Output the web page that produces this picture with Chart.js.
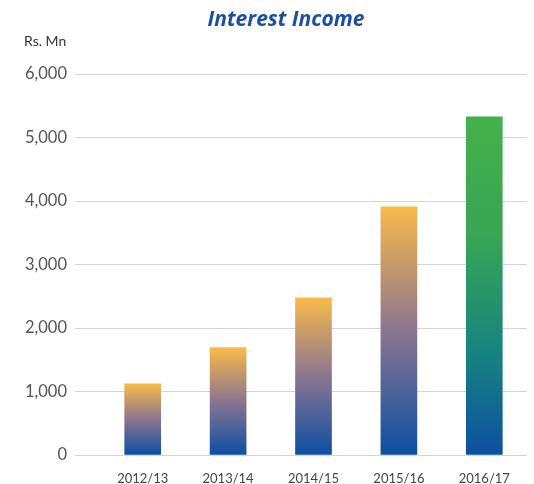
<!DOCTYPE html>
<html>
<head>
<meta charset="utf-8">
<script src="https://cdn.jsdelivr.net/npm/chart.js@4.4.1/dist/chart.umd.min.js"></script>
<style>
  html, body { margin: 0; padding: 0; background: #fff; }
  #wrap { width: 534px; height: 484px; }
</style>
</head>
<body>
<div id="wrap"><canvas id="incomeChart"></canvas></div>
<script>
const years = ["2012/13", "2013/14", "2014/15", "2015/16", "2016/17"];
const interestIncome = [1120, 1690, 2475, 3910, 5325];
const yTicks = [0, 1000, 2000, 3000, 4000, 5000, 6000];

const chartTitle = "Interest Income";
const unitLabel = "Rs. Mn";

// orange -> blue for the older years, green -> blue for the latest one
function barFill(context) {
    let chart = context.chart;
    if (!chart.chartArea || context.parsed == null) return "#f8b94b";
    let y = chart.scales.y;
    let top = y.getPixelForValue(context.parsed.y);
    let bottom = y.getPixelForValue(0);
    let g = chart.ctx.createLinearGradient(0, top, 0, bottom);
    if (context.dataIndex === years.length - 1) {
        g.addColorStop(0, "#44b04a");
        g.addColorStop(0.35, "#38a654");
        g.addColorStop(0.7, "#17837f");
        g.addColorStop(1, "#0d4fa3");
    } else {
        g.addColorStop(0, "#f9ba4a");
        g.addColorStop(0.5, "#8a7590");
        g.addColorStop(1, "#0c4fa3");
    }
    return g;
}

const textPlugin = {
    id: "textPlugin",
    afterDraw(chart) {
        let ctx = chart.ctx;
        ctx.save();
        ctx.textBaseline = "middle";
        ctx.textAlign = "center";
        ctx.fillStyle = "#1a4f9f";
        ctx.font = "italic bold 21px 'Open Sans', sans-serif";
        ctx.fillText(chartTitle, 286, 20);
        ctx.textAlign = "left";
        ctx.fillStyle = "#333";
        ctx.font = "14px Lato, sans-serif";
        ctx.fillText(unitLabel, 24, 41);
        ctx.restore();
    }
};

new Chart(document.getElementById("incomeChart").getContext("2d"), {
    type: "bar",
    data: {
        labels: years,
        datasets: [{
            label: chartTitle,
            data: interestIncome,
            backgroundColor: barFill,
            barThickness: 36,
            borderWidth: 0
        }]
    },
    options: {
        responsive: true,
        maintainAspectRatio: false,
        animation: false,
        layout: { padding: { top: 74, right: 7, left: 0, bottom: 0 } },
        plugins: {
            legend: { display: false },
            title: { display: false },
            tooltip: { enabled: false }
        },
        scales: {
            x: {
                grid: { display: false },
                border: { display: false },
                ticks: { color: "#444", padding: 8, font: { family: "Lato", size: 13 } },
                afterFit: s => { s.height = 29; }
            },
            y: {
                min: 0,
                max: 6000,
                afterBuildTicks: s => { s.ticks = yTicks.map(v => ({ value: v })); },
                grid: { color: "#d4d4d4", lineWidth: 1, tickLength: 25 },
                border: { display: false },
                ticks: {
                    color: "#555",
                    padding: 8,
                    font: { family: "Lato", size: 16.5 },
                    callback: v => v.toLocaleString("en-US")
                },
                afterFit: s => { s.width = 100; }
            }
        }
    },
    plugins: [textPlugin]
});
</script>
</body>
</html>
